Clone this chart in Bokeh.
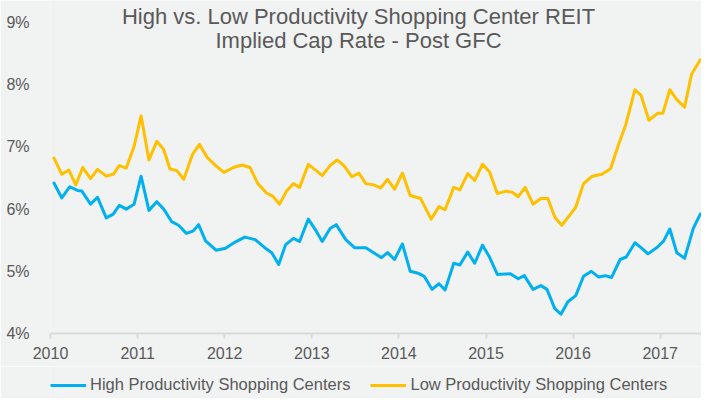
from bokeh.plotting import figure
from bokeh.layouts import column
from bokeh.models import (Range1d, FixedTicker, PrintfTickFormatter, Legend, LegendItem, Label)
from bokeh.embed import file_html
from bokeh.resources import INLINE

# ---- data ----
high_x = [2010.04, 2010.13, 2010.22, 2010.31, 2010.36, 2010.46, 2010.54, 2010.64, 2010.72, 2010.79,
          2010.87, 2010.96, 2011.04, 2011.13, 2011.22, 2011.30, 2011.39, 2011.47, 2011.56, 2011.64,
          2011.70, 2011.78, 2011.90, 2012.01, 2012.12, 2012.23, 2012.35, 2012.46, 2012.54, 2012.62,
          2012.70, 2012.79, 2012.86, 2012.96, 2013.05, 2013.12, 2013.21, 2013.28, 2013.39, 2013.49,
          2013.62, 2013.71, 2013.80, 2013.87, 2013.95, 2014.04, 2014.13, 2014.22, 2014.29, 2014.38,
          2014.46, 2014.53, 2014.63, 2014.70, 2014.79, 2014.87, 2014.96, 2015.04, 2015.13, 2015.28,
          2015.37, 2015.44, 2015.54, 2015.63, 2015.70, 2015.79, 2015.86, 2015.94, 2016.03, 2016.12,
          2016.21, 2016.29, 2016.37, 2016.44, 2016.54, 2016.61, 2016.71, 2016.79, 2016.86, 2016.97,
          2017.04, 2017.11, 2017.19, 2017.28, 2017.38, 2017.46]
high_y = [6.42, 6.18, 6.36, 6.30, 6.29, 6.08, 6.19, 5.86, 5.92, 6.06,
          6.00, 6.08, 6.53, 5.98, 6.12, 6.00, 5.80, 5.74, 5.61, 5.65,
          5.75, 5.49, 5.34, 5.37, 5.47, 5.55, 5.51, 5.38, 5.30, 5.11,
          5.43, 5.53, 5.48, 5.84, 5.65, 5.48, 5.69, 5.75, 5.51, 5.38,
          5.38, 5.30, 5.22, 5.30, 5.19, 5.44, 5.00, 4.97, 4.92, 4.71,
          4.80, 4.70, 5.13, 5.10, 5.31, 5.13, 5.42, 5.23, 4.95, 4.96,
          4.88, 4.93, 4.71, 4.77, 4.71, 4.40, 4.31, 4.51, 4.61, 4.92,
          5.00, 4.91, 4.93, 4.90, 5.19, 5.23, 5.46, 5.37, 5.28, 5.39,
          5.49, 5.68, 5.30, 5.21, 5.69, 5.92]

low_x = [2010.04, 2010.13, 2010.21, 2010.29, 2010.37, 2010.46, 2010.54, 2010.64, 2010.72, 2010.79,
         2010.87, 2010.96, 2011.04, 2011.13, 2011.22, 2011.30, 2011.37, 2011.45, 2011.53, 2011.63,
         2011.71, 2011.80, 2011.88, 2011.99, 2012.10, 2012.20, 2012.29, 2012.38, 2012.48, 2012.55,
         2012.63, 2012.71, 2012.79, 2012.86, 2012.96, 2013.05, 2013.12, 2013.21, 2013.29, 2013.37,
         2013.46, 2013.54, 2013.62, 2013.71, 2013.79, 2013.87, 2013.95, 2014.04, 2014.13, 2014.25,
         2014.37, 2014.46, 2014.53, 2014.63, 2014.70, 2014.79, 2014.87, 2014.96, 2015.04, 2015.13,
         2015.23, 2015.30, 2015.37, 2015.45, 2015.54, 2015.63, 2015.71, 2015.79, 2015.87, 2015.96,
         2016.03, 2016.12, 2016.22, 2016.33, 2016.43, 2016.52, 2016.60, 2016.65, 2016.71, 2016.78,
         2016.87, 2016.97, 2017.03, 2017.11, 2017.19, 2017.28, 2017.36, 2017.46]
low_y = [6.82, 6.56, 6.63, 6.39, 6.67, 6.49, 6.64, 6.53, 6.56, 6.70,
         6.66, 7.01, 7.50, 6.79, 7.09, 6.96, 6.65, 6.62, 6.48, 6.88,
         7.04, 6.83, 6.72, 6.59, 6.67, 6.71, 6.67, 6.41, 6.26, 6.21,
         6.08, 6.29, 6.41, 6.35, 6.72, 6.62, 6.54, 6.70, 6.79, 6.70,
         6.52, 6.58, 6.41, 6.39, 6.34, 6.48, 6.32, 6.58, 6.22, 6.17,
         5.84, 6.04, 5.99, 6.35, 6.31, 6.57, 6.46, 6.72, 6.60, 6.25,
         6.29, 6.27, 6.20, 6.35, 6.08, 6.17, 6.17, 5.87, 5.74, 5.90,
         6.03, 6.41, 6.53, 6.56, 6.65, 7.03, 7.34, 7.60, 7.92, 7.83,
         7.43, 7.54, 7.54, 7.92, 7.76, 7.64, 8.17, 8.40]

year_ticks = [2010, 2011, 2012, 2013, 2014, 2015, 2016, 2017]
pct_ticks = [4, 5, 6, 7, 8, 9]
title_lines = ["High vs. Low Productivity Shopping Center REIT", "Implied Cap Rate - Post GFC"]
series_names = ["High Productivity Shopping Centers", "Low Productivity Shopping Centers"]

BG = "#f1f2f2"
TXT = "#595959"
FONT = "Liberation Sans"
BLUE = "#00b0f0"
GOLD = "#ffc000"

# ---------------- main chart ----------------
p = figure(width=701, height=366, output_backend="svg", toolbar_location=None,
           x_range=Range1d(2010, 2017.474), y_range=Range1d(4, 9.355),
           min_border_left=50, min_border_right=0, min_border_top=0, min_border_bottom=33)
p.background_fill_color = BG
p.border_fill_color = BG
p.outline_line_color = None
p.xgrid.visible = False
p.ygrid.visible = False

p.line(high_x, high_y, line_color=BLUE, line_width=3, line_join="round", line_cap="round")
p.line(low_x, low_y, line_color=GOLD, line_width=3, line_join="round", line_cap="round")

xa = p.xaxis[0]
xa.ticker = FixedTicker(ticks=year_ticks)
xa.formatter = PrintfTickFormatter(format="%d")
xa.axis_line_color = "#d9d9d9"
xa.axis_line_width = 2
xa.major_tick_line_color = "#d9d9d9"
xa.major_tick_line_width = 2
xa.major_tick_out = 5
xa.major_tick_in = 0
xa.minor_tick_line_color = None
xa.major_label_text_font = FONT
xa.major_label_text_font_size = "16px"
xa.major_label_text_color = TXT
xa.major_label_standoff = 8

ya = p.yaxis[0]
ya.ticker = FixedTicker(ticks=pct_ticks)
ya.formatter = PrintfTickFormatter(format="%d%%")
ya.axis_line_color = None
ya.major_tick_line_color = None
ya.minor_tick_line_color = None
ya.major_label_text_font = FONT
ya.major_label_text_font_size = "16px"
ya.major_label_text_color = TXT
ya.major_label_standoff = 15

for txt, yy in zip(title_lines, [317, 293]):
    p.add_layout(Label(x=308, y=yy, x_units="screen", y_units="screen", text=txt,
                       text_align="center", text_baseline="middle", text_font=FONT,
                       text_font_size="22px", text_color=TXT))

# ---------------- legend strip (series drawn out of view, only their legend shows) ----------------
lg = figure(width=701, height=32, output_backend="svg", toolbar_location=None,
            x_range=Range1d(0, 1), y_range=Range1d(0, 1),
            x_axis_type=None, y_axis_type=None,
            min_border_left=0, min_border_right=0, min_border_top=0, min_border_bottom=0)
lg.background_fill_color = BG
lg.border_fill_color = BG
lg.outline_line_color = None
lg.xgrid.visible = False
lg.ygrid.visible = False
k_high = lg.line(high_x, high_y, line_color=BLUE, line_width=3)
k_low = lg.line(low_x, low_y, line_color=GOLD, line_width=3)

legend = Legend(items=[LegendItem(label=series_names[0], renderers=[k_high]),
                       LegendItem(label=series_names[1], renderers=[k_low])],
                orientation="horizontal", location=(0, 4),
                label_text_font=FONT, label_text_font_size="16.5px", label_text_color=TXT,
                glyph_width=36, glyph_height=16, label_height=16, label_standoff=4,
                spacing=20, padding=0, margin=0, border_line_color=None,
                background_fill_alpha=0)
lg.add_layout(legend, "center")

layout = column(p, lg, spacing=0)
open("out.html", "w").write(file_html(layout, INLINE))
